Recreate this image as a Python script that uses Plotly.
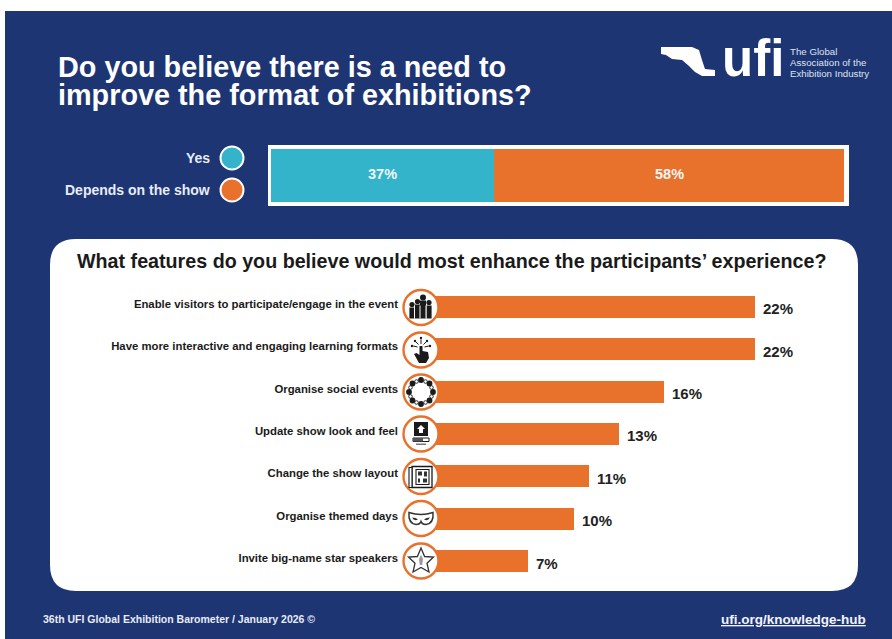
import plotly.graph_objects as go

W, H = 892, 639

# ---- data ----
format_labels = ["Yes", "Depends on the show"]
format_values = [37, 58]
feature_labels = [
    "Enable visitors to participate/engage in the event",
    "Have more interactive and engaging learning formats",
    "Organise social events",
    "Update show look and feel",
    "Change the show layout",
    "Organise themed days",
    "Invite big-name star speakers",
]
feature_values = [22, 22, 16, 13, 11, 10, 7]

NAVY = "#1E3574"
ORANGE = "#E8712B"
TEAL = "#33B4CB"
INK = "#1A1A1A"
FONT = "Liberation Sans"

fig = go.Figure()

# top stacked bar
for name, val, col in zip(format_labels, format_values, [TEAL, ORANGE]):
    fig.add_trace(go.Bar(
        x=[val], y=["format"], orientation="h", name=name, xaxis="x2", yaxis="y2",
        marker=dict(color=col, line=dict(width=0)), width=1,
        showlegend=False, hoverinfo="skip",
    ))

# feature bars
fig.add_trace(go.Bar(
    x=feature_values, y=feature_labels, orientation="h", xaxis="x3", yaxis="y3",
    marker=dict(color=ORANGE, line=dict(width=0)), width=0.52,
    showlegend=False, hoverinfo="skip",
))


def xd(a, b):
    return [a / W, b / W]


def yd(top, bottom):
    return [1 - bottom / H, 1 - top / H]


shapes = []
annots = []


def rect(x0, y0, x1, y1, fill, line=None, lw=0, layer="below"):
    shapes.append(dict(type="rect", xref="x", yref="y", x0=x0, y0=y0, x1=x1, y1=y1,
                       fillcolor=fill, line=dict(color=line or fill, width=lw), layer=layer))


def circ(cx, cy, r, fill, line=None, lw=0, layer="above"):
    shapes.append(dict(type="circle", xref="x", yref="y", x0=cx - r, y0=cy - r, x1=cx + r, y1=cy + r,
                       fillcolor=fill, line=dict(color=line or fill, width=lw), layer=layer))


def path(d, fill=INK, line=None, lw=0, layer="above"):
    shapes.append(dict(type="path", xref="x", yref="y", path=d, fillcolor=fill,
                       line=dict(color=line or fill, width=lw), layer=layer))


def poly(cx, cy, pts, fill=INK, line=None, lw=0):
    d = "M" + " L".join(f"{cx + a},{cy + b}" for a, b in pts) + " Z"
    path(d, fill, line, lw)


def text(x, y, s, size, color="white", anchor="left", bold=True, family=FONT):
    annots.append(dict(xref="x", yref="y", x=x, y=y, text=f"<b>{s}</b>" if bold else s,
                       showarrow=False, xanchor=anchor, yanchor="middle",
                       font=dict(family=family, size=size, color=color)))


# background
rect(5, 11, 892, 639, NAVY)
# white frame of the top bar
rect(268, 145, 849, 206, "white")
# white panel
r = 26
path(f"M{50 + r},239 L{858 - r},239 Q858,239 858,{239 + r} L858,{591 - r} Q858,591 {858 - r},591 "
     f"L{50 + r},591 Q50,591 50,{591 - r} L50,{239 + r} Q50,239 {50 + r},239 Z",
     fill="white", layer="below")

# titles
text(56, 67, "Do you believe there is a need to", 28.8)
text(56, 95, "improve the format of exhibitions?", 28.8)
text(451, 261, "What features do you believe would most enhance the participants’ experience?",
     19.7, color=INK, anchor="center")

# logo
path("M661,47 L692,47 L699,50 L702,60 L705,69 L715,70 L715,76 L702,76 L695,72 L689,66 L682,60 "
     "L672,59 L666,55 L661,54 Z", fill="white", layer="above")
text(720, 58, "ufi", 51)
text(788, 51, "The Global", 9.7, color="#DDE3EE", bold=False)
text(788, 62, "Association of the", 9.7, color="#DDE3EE", bold=False)
text(788, 73, "Exhibition Industry", 9.7, color="#DDE3EE", bold=False)

# legend
text(212, 158, format_labels[0], 14, color="#E8ECF4", anchor="right")
text(212, 189.5, format_labels[1], 14, color="#E8ECF4", anchor="right")
circ(232, 158, 11.5, TEAL, "white", 2)
circ(232, 190, 11.5, ORANGE, "white", 2)

# footer
text(41, 619, "36th UFI Global Exhibition Barometer / January 2026 ©", 10.5, color="#E8ECF4")
text(868, 619, "<u>ufi.org/knowledge-hub</u>", 13.5, color="#F2F4F8", anchor="right")

# value labels of the top bar, placed from the data on its axis
left = 0
for val in format_values:
    annots.append(dict(xref="x2", yref="y2", x=left + val / 2, y="format", text=f"<b>{val}%</b>",
                       showarrow=False, yshift=2,
                       font=dict(family=FONT, size=14.5, color="#F2F6F8")))
    left += val

# value labels, positioned from the data on the feature axes
for lab, val in zip(feature_labels, feature_values):
    annots.append(dict(xref="x3", yref="y3", x=val, y=lab, text=f"<b>{val}%</b>", showarrow=False,
                       xanchor="left", xshift=6, yshift=-2,
                       font=dict(family=FONT, size=15, color="#222222")))

# icon badges
cx = 421
cys = [307.5, 350, 392, 434, 476.5, 518.5, 561]
for cy in cys:
    circ(cx, cy, 17.5, "white", ORANGE, 2.4)

# 1 raised hands
cy = cys[0]
for dx, top, w in [(-9, -3, 2.6), (-3.5, -6, 2.6), (2, -10, 3), (8, -5, 2.6)]:
    poly(cx + 0, cy, [(dx - w, top + 3), (dx + w, top + 3), (dx + w, 11), (dx - w, 11)])
    circ(cx + dx, cy + top, w, INK)
for dx in (-6.5, -1, 5):
    poly(cx, cy, [(dx - .5, -2), (dx + .5, -2), (dx + .5, 11), (dx - .5, 11)], fill="white")

# 2 pointing hand with rays
cy = cys[1]
poly(cx, cy, [(-1.5, -4), (1.5, -4), (1.5, 1), (7, 2), (8, 8), (5, 13), (-2, 13), (-7, 4), (-4.5, 3), (-1.5, 5)])
for dx, dy in [(0, -12), (-6, -9), (6, -9), (-9, -4), (9, -4)]:
    circ(cx + dx, cy + dy, 1.2, INK)
for a, b in [((0, -10.5), (0, -6)), ((-5, -8), (-2.5, -5.5)), ((5, -8), (2.5, -5.5)), ((-7.8, -4), (-3.5, -3)), ((7.8, -4), (3.5, -3))]:
    path(f"M{cx + a[0]},{cy + a[1]} L{cx + b[0]},{cy + b[1]}", fill="rgba(0,0,0,0)", line=INK, lw=1)

# 3 ring of people
cy = cys[2]
for dx, dy in [(0, -12), (8.5, -8.5), (12, 0), (8.5, 8.5), (0, 12), (-8.5, 8.5), (-12, 0), (-8.5, -8.5)]:
    circ(cx + dx, cy + dy, 2.9, INK)
for dx, dy in [(4.5, -10.5), (10.5, -4.5), (10.5, 4.5), (4.5, 10.5), (-4.5, 10.5), (-10.5, 4.5), (-10.5, -4.5), (-4.5, -10.5)]:
    circ(cx + dx, cy + dy, 1.8, "white", INK, 0.9)

# 4 update
cy = cys[3]
rect(cx - 7, cy - 12, cx + 7, cy + 2, INK, layer="above")
poly(cx, cy, [(0, -9), (4, -5), (2, -5), (2, -1), (-2, -1), (-2, -5), (-4, -5)], fill="white")
rect(cx - 8, cy + 4, cx + 8, cy + 7.5, "white", INK, 1, layer="above")
rect(cx - 8, cy + 4, cx + 2, cy + 7.5, "#555555", layer="above")
rect(cx - 5, cy + 9.5, cx + 5, cy + 11, "#777777", layer="above")

# 5 floor plan
cy = cys[4]
rect(cx - 9, cy - 10, cx + 11, cy + 11, "white", INK, 1.3, layer="above")
rect(cx - 12, cy - 9, cx - 9, cy + 11, "white", INK, 1.1, layer="above")
rect(cx - 5, cy - 7, cx + 8, cy + 8, "white", INK, 1.1, layer="above")
rect(cx - 3, cy - 5, cx + 1, cy - 1, "#333333", layer="above")
rect(cx + 3, cy - 5, cx + 6, cy, "#333333", layer="above")
rect(cx - 3, cy + 2, cx - 1, cy + 6, "#333333", layer="above")
rect(cx + 2, cy + 2, cx + 6, cy + 6, "#333333", layer="above")

# 6 mask
cy = cys[5]
path(f"M{cx - 12},{cy - 6} Q{cx},{cy - 2} {cx + 12},{cy - 6} Q{cx + 13},{cy + 5} {cx + 5},{cy + 6} "
     f"Q{cx + 1},{cy + 6} {cx},{cy + 3} Q{cx - 1},{cy + 6} {cx - 5},{cy + 6} Q{cx - 13},{cy + 5} {cx - 12},{cy - 6} Z",
     fill="white", line="#333333", lw=1.5)
path(f"M{cx - 9},{cy - 1} Q{cx - 5},{cy - 1} {cx - 3},{cy + 1} Q{cx - 7},{cy + 3} {cx - 9},{cy - 1} Z", fill="#333333")
path(f"M{cx + 9},{cy - 1} Q{cx + 5},{cy - 1} {cx + 3},{cy + 1} Q{cx + 7},{cy + 3} {cx + 9},{cy - 1} Z", fill="#333333")

# 7 star
cy = cys[6]
poly(cx, cy, [(0, -13), (3.6, -4.5), (12.5, -4), (6, 2.2), (8, 11), (0, 6.5), (-8, 11), (-6, 2.2), (-12.5, -4), (-3.6, -4.5)],
     fill="white", line="#333333", lw=1.3)
poly(cx, cy, [(0, -6), (2, -2), (1.2, 4), (-1.2, 4), (-2, -2)], fill="#999999")

fig.update_layout(
    width=W, height=H, autosize=False, margin=dict(l=0, r=0, t=0, b=0, pad=0),
    paper_bgcolor="white", plot_bgcolor="rgba(0,0,0,0)",
    barmode="stack", shapes=shapes, annotations=annots, showlegend=False,
    font=dict(family=FONT),
    # pixel overlay
    xaxis=dict(domain=[0, 1], range=[0, W], visible=False, fixedrange=True),
    yaxis=dict(domain=[0, 1], range=[H, 0], visible=False, fixedrange=True),
    # top bar
    xaxis2=dict(domain=xd(271, 844), range=[0, 95], visible=False, anchor="y2", fixedrange=True),
    yaxis2=dict(domain=yd(149, 202), visible=False, anchor="x2", fixedrange=True),
    # feature bars
    xaxis3=dict(domain=xd(422, 840), range=[0, 418 / 15.15], visible=False, anchor="y3", fixedrange=True),
    yaxis3=dict(domain=yd(285.8, 582.2), range=[6.5, -0.5], type="category",
                categoryorder="array", categoryarray=feature_labels, anchor="x3",
                showline=False, showgrid=False, zeroline=False, ticks="", ticklabelstandoff=23,
                ticklabelshift=3, tickfont=dict(family=FONT, size=11.35, color=INK, weight="bold"),
                fixedrange=True),
)

fig.write_html("out.html", config=dict(displayModeBar=False),
               post_script="document.body.style.margin='0';")
